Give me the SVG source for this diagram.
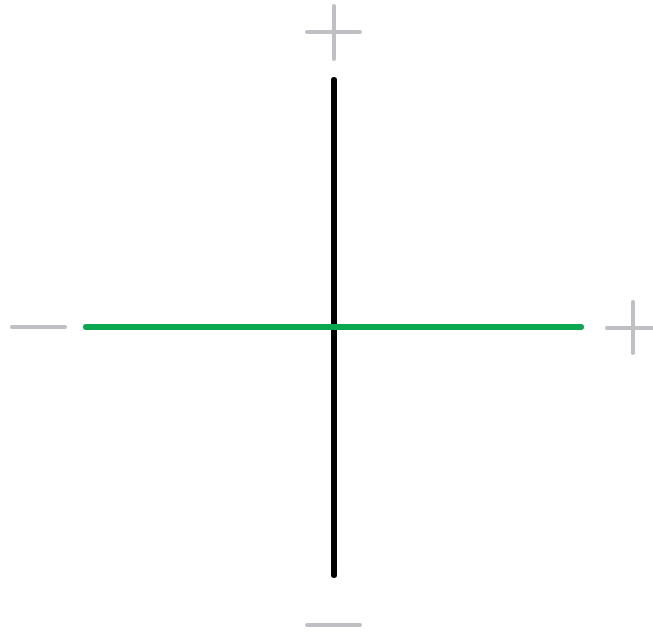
<svg xmlns="http://www.w3.org/2000/svg" width="653" height="635" viewBox="0 0 653 635">
<style>
.sign{stroke:#c0c0c4;stroke-width:4;stroke-linecap:round;fill:none}
.axis{stroke-width:6;stroke-linecap:round;fill:none}
</style>
<rect width="653" height="635" fill="#ffffff"/>
<g id="signs">
<g id="top-plus"><line class="sign" x1="307" y1="32" x2="360" y2="32"/><line class="sign" x1="334" y1="6" x2="334" y2="59"/></g>
<g id="left-minus"><line class="sign" x1="12" y1="327" x2="65" y2="327"/></g>
<g id="right-plus"><line class="sign" x1="607" y1="328" x2="656" y2="328"/><line class="sign" x1="633" y1="302" x2="633" y2="353"/></g>
<g id="bottom-minus"><line class="sign" x1="307" y1="625" x2="360" y2="625"/></g>
</g>
<g id="connectors">
<line class="axis" stroke="#000000" x1="334" y1="80" x2="334" y2="575"/>
<line class="axis" stroke="#0aa650" x1="86" y1="327" x2="581" y2="327"/>
</g>
</svg>
